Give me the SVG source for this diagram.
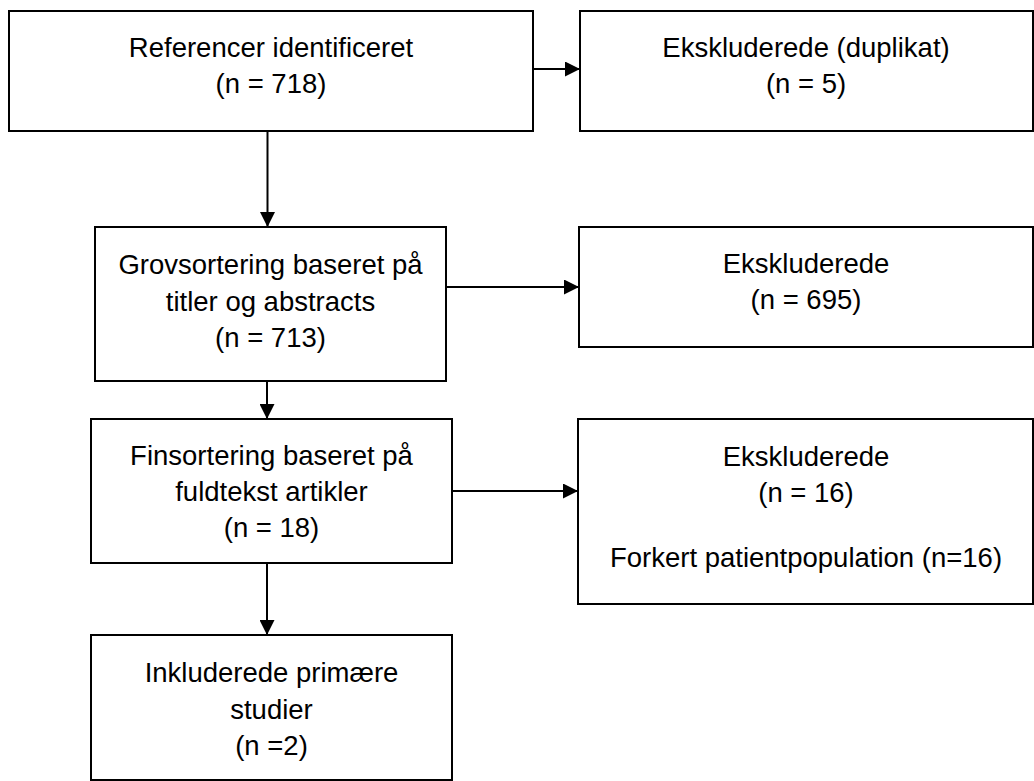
<svg xmlns="http://www.w3.org/2000/svg" width="1034" height="781" viewBox="0 0 1034 781">
<style>
.box{fill:#fff;stroke:#000;stroke-width:2}
.t{font-family:"Liberation Sans",Arial,sans-serif;font-size:27.5px;fill:#000;text-anchor:middle}
.c{stroke:#000;stroke-width:2;fill:none;marker-end:url(#ah)}
</style>
<defs>
<marker id="ah" markerUnits="userSpaceOnUse" markerWidth="15" markerHeight="15" refX="15" refY="7.5" orient="auto">
<path d="M0,0 L15,7.5 L0,15 Z" fill="#000"/>
</marker>
</defs>
<rect width="1034" height="781" fill="#fff"/>
<g id="n1"><rect class="box" x="9" y="11" width="524" height="120"/>
<text class="t" x="271" y="57">Referencer identificeret</text>
<text class="t" x="271" y="93">(n = 718)</text></g>
<g id="e1"><rect class="box" x="580" y="11" width="453" height="120"/>
<text class="t" x="806" y="57">Ekskluderede (duplikat)</text>
<text class="t" x="806" y="93">(n = 5)</text></g>
<g id="n2"><rect class="box" x="95" y="227" width="351" height="154"/>
<text class="t" x="270.5" y="274">Grovsortering baseret på</text>
<text class="t" x="270.5" y="311">titler og abstracts</text>
<text class="t" x="270.5" y="347">(n = 713)</text></g>
<g id="e2"><rect class="box" x="579" y="227" width="454" height="120"/>
<text class="t" x="806" y="273">Ekskluderede</text>
<text class="t" x="806" y="309">(n = 695)</text></g>
<g id="n3"><rect class="box" x="91" y="419" width="361" height="144"/>
<text class="t" x="271.5" y="465">Finsortering baseret på</text>
<text class="t" x="271.5" y="501">fuldtekst artikler</text>
<text class="t" x="271.5" y="537">(n = 18)</text></g>
<g id="e3"><rect class="box" x="578" y="419" width="455" height="185"/>
<text class="t" x="806" y="466">Ekskluderede</text>
<text class="t" x="806" y="502">(n = 16)</text>
<text class="t" x="806" y="567">Forkert patientpopulation (n=16)</text></g>
<g id="n4"><rect class="box" x="91" y="635" width="361" height="145"/>
<text class="t" x="271.5" y="682">Inkluderede primære</text>
<text class="t" x="271.5" y="719">studier</text>
<text class="t" x="271.5" y="755">(n =2)</text></g>
<g id="connectors">
<line class="c" x1="533" y1="69" x2="580" y2="69"/>
<line class="c" x1="267.5" y1="131" x2="267.5" y2="227"/>
<line class="c" x1="446" y1="287" x2="579" y2="287"/>
<line class="c" x1="267" y1="381" x2="267" y2="419"/>
<line class="c" x1="452" y1="491" x2="578" y2="491"/>
<line class="c" x1="267" y1="563" x2="267" y2="635"/>
</g>
</svg>
